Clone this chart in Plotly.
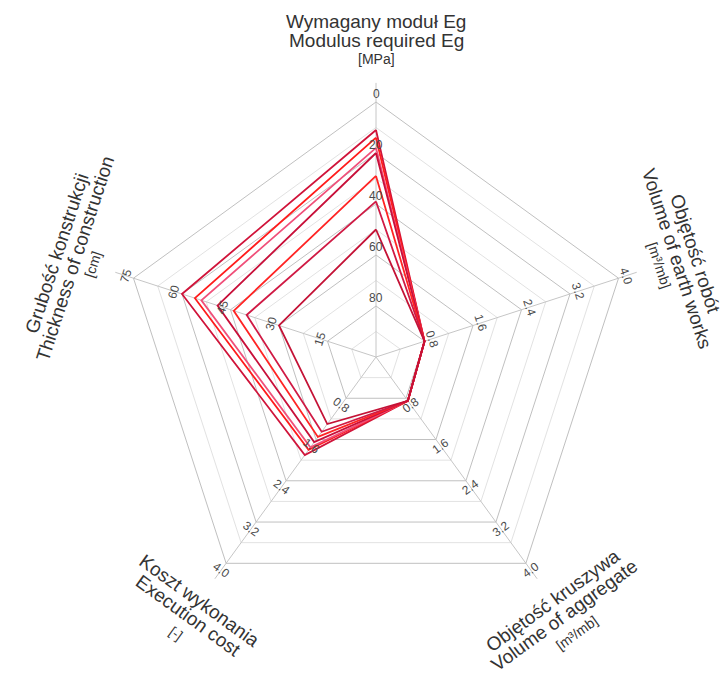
import math
import plotly.graph_objects as go

# ---------------- data ----------------
axis_ids = ["Eg", "earth", "aggregate", "cost", "thickness"]
axis_max = [100.0, 4.0, 4.0, 4.0, 75.0]
axis_reversed = [True, False, False, False, False]

tick_labels_Eg = ["80", "60", "40", "20", "0"]
tick_labels_earth = ["0.8", "1.6", "2.4", "3.2", "4.0"]
tick_labels_aggregate = ["0.8", "1.6", "2.4", "3.2", "4.0"]
tick_labels_cost = ["0.8", "1.6", "2.4", "3.2", "4.0"]
tick_labels_thickness = ["15", "30", "45", "60", "75"]

title_Eg = ["Wymagany moduł Eg", "Modulus required Eg", "[MPa]"]
title_earth = ["Objętość robót", "Volume of earth works", "[m³/mb]"]
title_aggregate = ["Objętość kruszywa", "Volume of aggregate", "[m³/mb]"]
title_cost = ["Koszt wykonania", "Execution cost", "[-]"]
title_thickness = ["Grubość konstrukcji", "Thickness of construction", "[cm]"]

eg_values = [11, 14, 18, 20, 29, 39, 50]
earth_values = [0.8, 0.8, 0.8, 0.8, 0.8, 0.8, 0.8]
aggregate_values = [0.85, 0.85, 0.85, 0.85, 0.85, 0.85, 0.85]
cost_values = [1.9, 1.8, 1.75, 1.65, 1.55, 1.45, 1.3]
thickness_values = [60, 56, 54, 49, 44, 40, 30]

series_colors = ["#d0143a", "#ff1c1c", "#f0507a", "#c8103a", "#ff2424", "#d01a44", "#c41236"]

# ---------------- geometry ----------------
W, H = 724, 679
CX, CY = 376.0, 357.0
R = 255.0
EXT = 1.075
angles = [0, 72, 144, 216, 288]
textangles = [0, 72, -36, 36, -72]

def norm(v, k):
    m = axis_max[k]
    return (m - v) / m if axis_reversed[k] else v / m

def to_paper(x, y):
    return x / W, 1 - y / H

def along(k, rpx):
    t = math.radians(angles[k])
    return CX + rpx * math.sin(t), CY - rpx * math.cos(t)

fig = go.Figure()

# dummy trace for the minor-grid subplot
fig.add_trace(go.Scatterpolar(r=[0] * 5, theta=axis_ids, mode="markers",
                              marker=dict(opacity=0), hoverinfo="skip",
                              subplot="polar", showlegend=False))

all_vals = [eg_values, earth_values, aggregate_values, cost_values, thickness_values]
for i in range(len(eg_values)):
    rr = [norm(all_vals[k][i], k) for k in range(5)]
    fig.add_trace(go.Scatterpolar(
        r=rr + [rr[0]], theta=axis_ids + [axis_ids[0]], mode="lines",
        line=dict(color=series_colors[i], width=1.8),
        subplot="polar2", showlegend=False, hoverinfo="skip"))

dom_x = [(CX - R * EXT) / W, (CX + R * EXT) / W]
dom_y = [1 - (CY + R * EXT) / H, 1 - (CY - R * EXT) / H]

common_ang = dict(rotation=90, direction="clockwise", type="category",
                  categoryorder="array", categoryarray=axis_ids,
                  showticklabels=False, ticks="", showline=False)

fig.update_layout(
    width=W, height=H,
    margin=dict(l=0, r=0, t=0, b=0),
    paper_bgcolor="white",
    showlegend=False,
    polar=dict(
        domain=dict(x=dom_x, y=dom_y),
        bgcolor="white",
        gridshape="linear",
        radialaxis=dict(range=[0, EXT], tickvals=[0.1, 0.3, 0.5, 0.7, 0.9],
                        showticklabels=False, ticks="", showline=False,
                        gridcolor="#e2e2e2", gridwidth=1),
        angularaxis=dict(showgrid=False, **common_ang),
    ),
    polar2=dict(
        domain=dict(x=dom_x, y=dom_y),
        bgcolor="rgba(0,0,0,0)",
        gridshape="linear",
        radialaxis=dict(range=[0, EXT], tickvals=[0.2, 0.4, 0.6, 0.8, 1.0],
                        showticklabels=False, ticks="", showline=False,
                        gridcolor="#c0c0c0", gridwidth=1.2),
        angularaxis=dict(showgrid=True, gridcolor="#c6c6c6", gridwidth=1.2, **common_ang),
    ),
)

annotations = []
all_ticks = [tick_labels_Eg, tick_labels_earth, tick_labels_aggregate,
             tick_labels_cost, tick_labels_thickness]
for k in range(5):
    for j, lab in enumerate(all_ticks[k]):
        x, y = along(k, (j + 1) * R / 5 + 8)
        px, py = to_paper(x, y)
        annotations.append(dict(x=px, y=py, xref="paper", yref="paper", text=lab,
                                showarrow=False, textangle=textangles[k],
                                font=dict(family="Liberation Sans", size=12, color="#4a4a4a"),
                                xanchor="center", yanchor="middle"))

all_titles = [title_Eg, title_earth, title_aggregate, title_cost, title_thickness]
for k in range(5):
    if k in (2, 3):
        radii = [301, 320, 341]
    else:
        radii = [336, 317, 298]
    for j, line in enumerate(all_titles[k]):
        x, y = along(k, radii[j])
        px, py = to_paper(x, y)
        size = 14 if j == 2 else 19
        annotations.append(dict(x=px, y=py, xref="paper", yref="paper", text=line,
                                showarrow=False, textangle=textangles[k],
                                font=dict(family="Liberation Sans", size=size, color="#333333"),
                                xanchor="center", yanchor="middle"))

fig.update_layout(annotations=annotations)
fig.write_html("out.html")
